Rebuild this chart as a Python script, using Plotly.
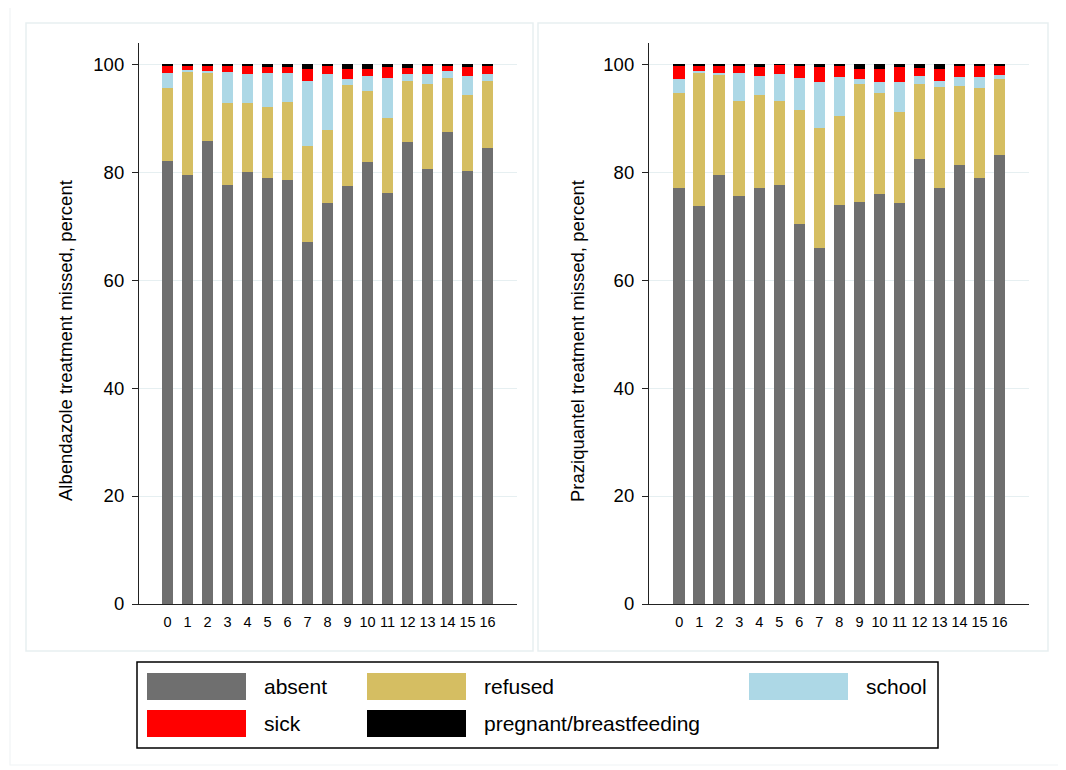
import plotly.graph_objects as go

W, H = 1066, 770

categories = list(range(17))
tick_labels = [str(c) for c in categories]

absent_alb = [82.0, 79.4, 85.8, 77.6, 80.0, 78.9, 78.6, 67.1, 74.2, 77.5, 81.8, 76.2, 85.5, 80.6, 87.5, 80.2, 84.4]
refused_alb = [13.5, 19.3, 12.6, 15.1, 12.8, 13.2, 14.4, 17.7, 13.5, 18.7, 13.2, 13.8, 11.4, 15.8, 10.0, 14.1, 12.5]
school_alb = [2.9, 0.2, 0.3, 5.9, 5.3, 6.2, 5.3, 12.0, 10.4, 1.0, 2.7, 7.4, 1.2, 1.7, 1.3, 3.4, 1.2]
sick_alb = [1.2, 0.8, 0.9, 1.1, 1.6, 1.2, 1.1, 2.3, 1.6, 1.9, 1.3, 2.1, 1.1, 1.7, 1.0, 1.8, 1.5]
preg_alb = [0.4, 0.3, 0.4, 0.3, 0.3, 0.5, 0.6, 0.9, 0.3, 0.9, 1.0, 0.5, 0.8, 0.2, 0.2, 0.5, 0.4]

absent_pzq = [77.1, 73.7, 79.5, 75.6, 77.0, 77.6, 70.3, 65.9, 73.9, 74.5, 75.9, 74.3, 82.4, 77.0, 81.3, 78.9, 83.1]
refused_pzq = [17.5, 24.8, 18.5, 17.5, 17.2, 15.6, 21.2, 22.2, 16.5, 21.9, 18.8, 16.9, 14.0, 18.8, 14.7, 16.7, 14.1]
school_pzq = [2.7, 0.2, 0.3, 5.3, 3.6, 4.9, 6.0, 8.6, 7.2, 0.8, 1.9, 5.5, 1.3, 1.1, 1.6, 2.0, 0.8]
sick_pzq = [2.4, 1.0, 1.4, 1.3, 1.6, 1.8, 2.2, 2.7, 2.2, 1.8, 2.5, 2.7, 1.5, 2.2, 2.0, 2.0, 1.7]
preg_pzq = [0.3, 0.3, 0.3, 0.3, 0.6, 0.1, 0.3, 0.6, 0.2, 1.0, 0.9, 0.6, 0.8, 0.9, 0.4, 0.4, 0.3]

series_names = ["absent", "refused", "school", "sick", "pregnant/breastfeeding"]
series_colors = ["#6f6f6f", "#d5be62", "#add8e6", "#ff0000", "#000000"]

y_titles = ["Albendazole treatment missed, percent", "Praziquantel treatment missed, percent"]

FONT = "Liberation Sans, Arial, sans-serif"

# map target screenshot pixel positions to paper coordinates
OFF_X, OFF_Y, H_EFF = 8, 8, 760


def px(x):
    return (x - OFF_X) / W


def py(y):
    return 1 - (y - OFF_Y) / H_EFF


fig = go.Figure()

panels = [
    ([absent_alb, refused_alb, school_alb, sick_alb, preg_alb], "x", "y"),
    ([absent_pzq, refused_pzq, school_pzq, sick_pzq, preg_pzq], "x2", "y2"),
]
for data, xa, ya in panels:
    for name, vals, col in zip(series_names, data, series_colors):
        fig.add_trace(go.Bar(
            x=categories, y=vals, name=name, xaxis=xa, yaxis=ya,
            marker=dict(color=col, line=dict(width=0)), width=0.58,
            showlegend=False,
        ))

ydom = [py(604), py(43)]
axis_common = dict(showline=True, linecolor="#222222", linewidth=1.2, zeroline=False)

fig.update_layout(
    width=W, height=H,
    margin=dict(l=0, r=0, t=0, b=0),
    paper_bgcolor="white", plot_bgcolor="white",
    barmode="stack",
    font=dict(family=FONT, color="#000000"),
    xaxis=dict(domain=[px(139), px(517)], range=[-1.43, 17.47], tickmode="array",
               tickvals=categories, ticktext=tick_labels, ticks="", showgrid=False,
               tickfont=dict(size=14.5), ticklabelstandoff=4, anchor="y", **axis_common),
    yaxis=dict(domain=ydom, range=[0, 103.9], tickvals=[0, 20, 40, 60, 80, 100],
               ticks="outside", ticklen=6, tickcolor="#222222", showgrid=True,
               gridcolor="#e6eff1", gridwidth=1, tickfont=dict(size=18.5),
               ticklabelstandoff=4, anchor="x", **axis_common),
    xaxis2=dict(domain=[px(649), px(1029)], range=[-1.51, 17.47], tickmode="array",
                tickvals=categories, ticktext=tick_labels, ticks="", showgrid=False,
                tickfont=dict(size=14.5), ticklabelstandoff=4, anchor="y2", **axis_common),
    yaxis2=dict(domain=ydom, range=[0, 103.9], tickvals=[0, 20, 40, 60, 80, 100],
                ticks="outside", ticklen=6, tickcolor="#222222", showgrid=True,
                gridcolor="#e6eff1", gridwidth=1, tickfont=dict(size=18.5),
                ticklabelstandoff=4, anchor="x2", **axis_common),
)

shapes = []
shapes.append(dict(type="rect", xref="paper", yref="paper", x0=px(10), x1=px(1064), y0=py(765), y1=py(7),
                   line=dict(color="#f0f4f5", width=1.2), layer="below"))
for x0, x1 in [(26, 533), (538, 1048)]:
    shapes.append(dict(type="rect", xref="paper", yref="paper", x0=px(x0), x1=px(x1), y0=py(651), y1=py(23),
                       line=dict(color="#e8eff1", width=1.5), layer="below"))

shapes.append(dict(type="rect", xref="paper", yref="paper", x0=px(137), x1=px(938), y0=py(748), y1=py(662),
                   line=dict(color="#000000", width=1.5)))

legend_slots = [
    (147, 673), (367, 673), (749, 673),
    (147, 710), (367, 710),
]
annotations = []
for (lx, ly), name, col in zip(legend_slots, series_names, series_colors):
    shapes.append(dict(type="rect", xref="paper", yref="paper", x0=px(lx), x1=px(lx + 99),
                       y0=py(ly + 27), y1=py(ly), fillcolor=col, line=dict(width=0)))
    annotations.append(dict(x=px(lx + 115), y=py(ly + 13.5), xref="paper", yref="paper",
                            text=name, showarrow=False, xanchor="left", yanchor="middle",
                            font=dict(size=21, family=FONT, color="#000000")))

for xc, t in zip([65, 577], y_titles):
    annotations.append(dict(x=px(xc), y=py(341), xref="paper", yref="paper", text=t,
                            showarrow=False, textangle=-90, xanchor="center", yanchor="middle",
                            font=dict(size=18.5, family=FONT, color="#000000")))

fig.update_layout(shapes=shapes, annotations=annotations)

fig.write_html("out.html")
